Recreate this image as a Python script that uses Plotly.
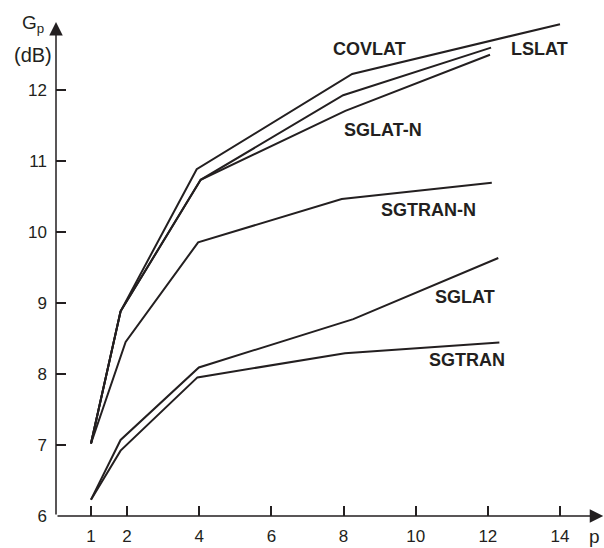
import plotly.graph_objects as go

# ---- data ----
series_names = ["COVLAT", "LSLAT", "SGLAT-N", "SGTRAN-N", "SGLAT", "SGTRAN"]
covlat_x = [1, 1.82, 3.93, 8.24, 14.0]
covlat_y = [7.02, 8.88, 10.88, 12.22, 12.92]
lslat_x = [1, 1.82, 4.04, 7.99, 12.09]
lslat_y = [7.02, 8.88, 10.73, 11.92, 12.59]
sglatn_x = [1, 1.82, 4.04, 8.05, 12.06]
sglatn_y = [7.02, 8.88, 10.73, 11.70, 12.49]
sgtrann_x = [1, 1.96, 3.97, 7.95, 12.11]
sgtrann_y = [7.02, 8.45, 9.85, 10.46, 10.69]
sglat_x = [1, 1.82, 3.99, 8.27, 12.29]
sglat_y = [6.23, 7.07, 8.09, 8.77, 9.63]
sgtran_x = [1, 1.82, 3.95, 8.04, 12.32]
sgtran_y = [6.23, 6.92, 7.95, 8.29, 8.44]

# label anchor positions (data coords)
label_x = [8.73, 13.42, 9.10, 10.35, 11.37, 11.41]
label_y = [12.57, 12.57, 11.43, 10.31, 9.08, 8.19]

x_ticks = [1, 2, 4, 6, 8, 10, 12, 14]
y_ticks = [6, 7, 8, 9, 10, 11, 12]

INK = "#231f20"
FONT = "Arial, Liberation Sans, sans-serif"

xs = [covlat_x, lslat_x, sglatn_x, sgtrann_x, sglat_x, sgtran_x]
ys = [covlat_y, lslat_y, sglatn_y, sgtrann_y, sglat_y, sgtran_y]

fig = go.Figure()
for name, x, y in zip(series_names, xs, ys):
    fig.add_trace(go.Scatter(x=x, y=y, mode="lines", name=name,
                             line=dict(color=INK, width=2), showlegend=False))

X0, X1 = 0.03, 15.22
Y0, Y1 = 6.0, 13.26

annotations = []
for name, lx, ly in zip(series_names, label_x, label_y):
    annotations.append(dict(x=lx, y=ly, xref="x", yref="y", text="<b>" + name + "</b>",
                            showarrow=False, xanchor="center", yanchor="middle",
                            font=dict(family=FONT, size=18, color=INK)))

# axis arrows
annotations.append(dict(x=X0, y=12.95, xref="x", yref="y", ax=X0, ay=Y0,
                        axref="x", ayref="y", text="", showarrow=True,
                        arrowhead=2, arrowsize=1.8, arrowwidth=1.5, arrowcolor=INK))
annotations.append(dict(x=15.2, y=Y0, xref="x", yref="y", ax=X0, ay=Y0,
                        axref="x", ayref="y", text="", showarrow=True,
                        arrowhead=2, arrowsize=1.8, arrowwidth=1.5, arrowcolor=INK))
# axis titles
annotations.append(dict(x=-0.066, y=0.954, xref="paper", yref="paper",
                        text="G<sub>p</sub>", showarrow=False, xanchor="left",
                        yanchor="middle", font=dict(family=FONT, size=19, color=INK)))
annotations.append(dict(x=-0.042, y=0.893, xref="paper", yref="paper",
                        text="(dB)", showarrow=False, xanchor="center",
                        yanchor="middle", font=dict(family=FONT, size=20, color=INK)))
annotations.append(dict(x=0.9964, y=-0.0388, xref="paper", yref="paper",
                        text="p", showarrow=False, xanchor="right",
                        yanchor="middle", font=dict(family=FONT, size=19, color=INK)))

fig.update_layout(
    width=604, height=548,
    margin=dict(l=56, r=0, t=0, b=32),
    paper_bgcolor="white", plot_bgcolor="white",
    annotations=annotations,
    xaxis=dict(range=[X0, X1], tickvals=x_ticks, ticktext=[str(v) for v in x_ticks],
               showgrid=False, zeroline=False, showline=False,
               ticks="inside", ticklen=10, tickwidth=1.5, tickcolor=INK,
               ticklabelstandoff=8,
               tickfont=dict(family=FONT, size=17, color=INK)),
    yaxis=dict(range=[Y0, Y1], tickvals=y_ticks, ticktext=[str(v) for v in y_ticks],
               showgrid=False, zeroline=False, showline=False,
               ticks="inside", ticklen=10, tickwidth=1.5, tickcolor=INK,
               ticklabelstandoff=8,
               tickfont=dict(family=FONT, size=17, color=INK)),
)

fig.write_html("out.html")
